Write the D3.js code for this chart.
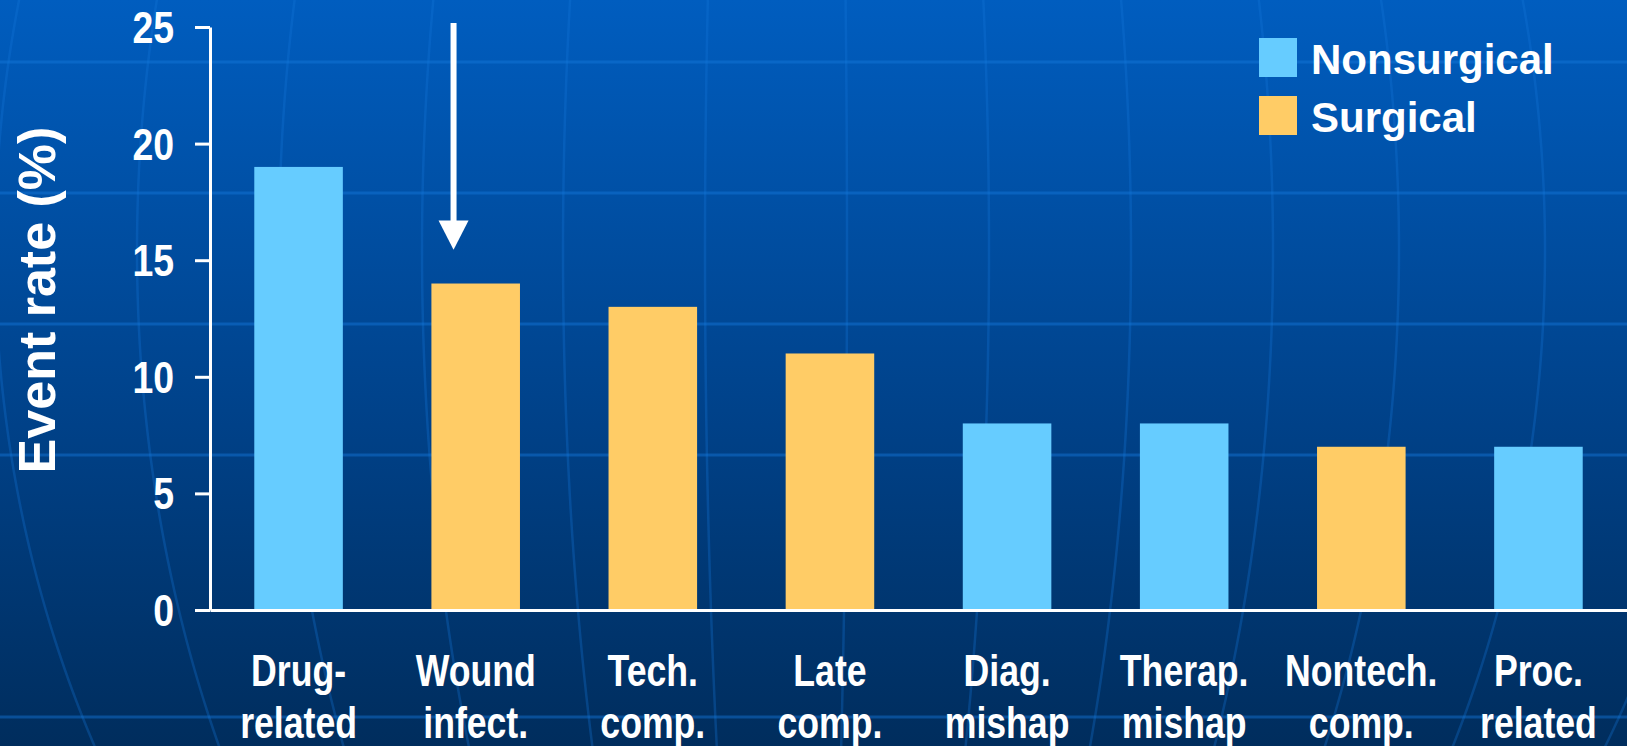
<!DOCTYPE html>
<html>
<head>
<meta charset="utf-8">
<script src="https://cdn.jsdelivr.net/npm/d3@7"></script>
<style>
  html, body { margin: 0; padding: 0; background: #003a78; }
  svg { display: block; }
  text { font-family: "Liberation Sans", Arial, Helvetica, sans-serif; font-weight: bold; fill: #ffffff; }
</style>
</head>
<body>
<svg id="chart" width="1627" height="746"></svg>
<script>
// ---- Data ----
const categories = ["Drug-\nrelated", "Wound\ninfect.", "Tech.\ncomp.", "Late\ncomp.",
                    "Diag.\nmishap", "Therap.\nmishap", "Nontech.\ncomp.", "Proc.\nrelated"];
const values = [19, 14, 13, 11, 8, 8, 7, 7];
const groups = ["Nonsurgical", "Surgical", "Surgical", "Surgical",
                "Nonsurgical", "Nonsurgical", "Surgical", "Nonsurgical"];
const seriesNames = ["Nonsurgical", "Surgical"];
const seriesColors = ["#66CCFF", "#FFCC66"];
const yTicks = [0, 5, 10, 15, 20, 25];
const yTitle = "Event rate (%)";
const highlighted = "Wound\ninfect.";

// ---- Setup ----
const W = 1627, H = 746;
const svg = d3.select("#chart");
const defs = svg.append("defs");

const grad = defs.append("linearGradient").attr("id", "bg").attr("x1", 0).attr("y1", 0).attr("x2", 0).attr("y2", 1);
grad.append("stop").attr("offset", "0%").attr("stop-color", "#005DBF");
grad.append("stop").attr("offset", "55%").attr("stop-color", "#00428A");
grad.append("stop").attr("offset", "100%").attr("stop-color", "#002D5D");
svg.append("rect").attr("width", W).attr("height", H).attr("fill", "url(#bg)");

// decorative globe lines
const deco = svg.append("g");
const latY = [62, 193, 324, 455, 717];
deco.selectAll("line.lat").data(latY).join("line")
  .attr("x1", 0).attr("x2", W).attr("y1", d => d).attr("y2", d => d)
  .attr("stroke", "#1478DC").attr("stroke-opacity", 0.45).attr("stroke-width", 3);

const meridians = [-805, -663, -521, -378, -237, -95, 47, 189, 331, 473, 599, 745, 919];
const gcx = 800, gcy = 250, gR = 1030;
const ys = d3.range(-10, 770, 10);
const mLine = d3.line().curve(d3.curveBasis);
deco.selectAll("path.mer").data(meridians).join("path")
  .attr("d", a => mLine(ys.map(yy => [gcx + a * Math.sqrt(Math.max(0, 1 - ((yy - gcy) / gR) ** 2)), yy])))
  .attr("fill", "none").attr("stroke", "#1478DC").attr("stroke-opacity", 0.3).attr("stroke-width", 2.5);

// ---- Scales ----
const x = d3.scaleBand().domain(categories).range([210, 1627]).paddingInner(0.5).paddingOuter(0.25);
const y = d3.scaleLinear().domain([0, 25]).range([610, 27]);
const color = d3.scaleOrdinal().domain(seriesNames).range(seriesColors);

// ---- Bars ----
svg.append("g").selectAll("rect").data(categories).join("rect")
  .attr("x", d => x(d))
  .attr("width", x.bandwidth())
  .attr("y", (d, i) => y(values[i]))
  .attr("height", (d, i) => y(0) - y(values[i]))
  .attr("fill", (d, i) => color(groups[i]));

// ---- X axis ----
const xSx = 0.81;
const xAxisG = svg.append("g").attr("transform", `translate(0,${y(0)})`)
  .call(d3.axisBottom(x).tickSize(0).tickSizeOuter(0));
xAxisG.select(".domain").attr("stroke", "#fff").attr("stroke-width", 3);
xAxisG.selectAll(".tick text").each(function(d) {
  const t = d3.select(this);
  t.text(null).attr("y", 0).attr("dy", null)
    .attr("font-size", 44).attr("fill", "#fff")
    .attr("text-anchor", "middle")
    .attr("transform", `scale(${xSx},1)`);
  d.split("\n").forEach((line, k) => {
    t.append("tspan").attr("x", 0).attr("y", 76 + k * 52).text(line);
  });
});

// ---- Y axis ----
const ySx = 0.85;
const yAxisG = svg.append("g").attr("transform", `translate(${x.range()[0]},0)`)
  .call(d3.axisLeft(y).tickValues(yTicks).tickSize(15).tickSizeOuter(0).tickPadding(21));
yAxisG.select(".domain").attr("stroke", "#fff").attr("stroke-width", 3);
yAxisG.selectAll(".tick line").attr("stroke", "#fff").attr("stroke-width", 3);
yAxisG.selectAll(".tick text")
  .attr("font-size", 44).attr("fill", "#fff")
  .attr("x", -36 / ySx).attr("dy", "0.35em")
  .attr("transform", `scale(${ySx},1)`);

// ---- Y title ----
svg.append("text")
  .attr("transform", "translate(55,300) rotate(-90)")
  .attr("text-anchor", "middle")
  .attr("font-size", 52)
  .text(yTitle);

// ---- Arrow annotation ----
const ax = x(highlighted) + x.bandwidth() * 0.25;
const aTop = y(25.17), aHeadBase = y(16.7), aTip = y(15.45);
const arrow = svg.append("g");
arrow.append("line").attr("x1", ax).attr("x2", ax).attr("y1", aTop).attr("y2", aHeadBase + 2)
  .attr("stroke", "#fff").attr("stroke-width", 6);
arrow.append("path")
  .attr("d", `M${ax - 15},${aHeadBase} L${ax + 15},${aHeadBase} L${ax},${aTip} Z`)
  .attr("fill", "#fff");

// ---- Legend ----
const legend = svg.append("g").attr("transform", "translate(1259,38)");
const li = legend.selectAll("g").data(seriesNames).join("g")
  .attr("transform", (d, i) => `translate(0,${i * 58})`);
li.append("rect").attr("width", 38).attr("height", 39).attr("fill", d => color(d));
li.append("text").attr("x", 52).attr("y", 36).attr("font-size", 42).text(d => d);
</script>
</body>
</html>
